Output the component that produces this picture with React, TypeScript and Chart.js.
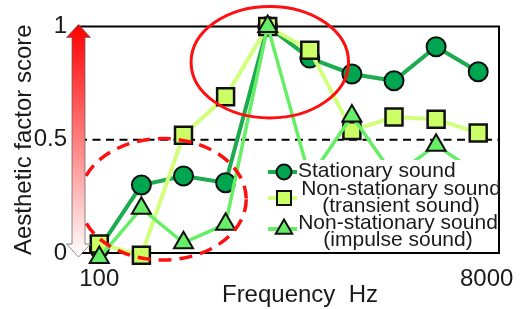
import React, { useEffect, useRef } from 'react';
import { Chart, registerables } from 'chart.js';

Chart.register(...registerables);

// ---- data ----
const bandIndex = [0, 1, 2, 3, 4, 5, 6, 7, 8, 9];
const stationary = [0.02, 0.3, 0.34, 0.31, 1.0, 0.86, 0.79, 0.76, 0.91, 0.8];
const transient = [0.04, -0.01, 0.52, 0.69, 1.0, 0.895, 0.54, 0.6, 0.59, 0.53];
const impulse = [-0.02, 0.197, 0.045, 0.127, 1.0, 0.33, 0.605, 0.34, 0.476, 0.35];
const xTickValues = [0, 9.2];
const xTickLabels = ['100', '8000'];
const yTickValues = [0, 0.5, 1];
const yTickLabels = ['0', '0.5', '1'];
const seriesNames = ['Stationary sound', 'Non-stationary sound (transient sound)', 'Non-stationary sound (impulse sound)'];
const legendLines = [['Stationary sound'], ['Non-stationary sound', '(transient sound)'], ['Non-stationary sound', '(impulse sound)']];
const xTitle = 'Frequency  Hz';
const yTitle = 'Aesthetic factor score';
const referenceLevel = 0.5;

// highlight ellipses (data units)
const highlightSolid = { cx: 4.05, cy: 0.842, rx: 1.87, ry: 0.246 };
const highlightDashed = { cx: 1.51, cy: 0.237, rx: 1.98, ry: 0.268 };

// ---- styles ----
const FONT = '"Liberation Sans", Arial, Helvetica, sans-serif';
const INK = '#1a1a1a';
const C = {
  statLine: '#1dab50',
  statFill: '#00a54f',
  tranLine: '#d2ff7c',
  tranFill: '#ccff66',
  impLine: '#66ee66',
  impFill: '#66ee66',
};

function drawMarker(ctx: CanvasRenderingContext2D, kind: string, x: number, y: number, r: number, fill: string) {
  ctx.beginPath();
  if (kind === 'circle') {
    ctx.arc(x, y, r, 0, Math.PI * 2);
  } else if (kind === 'rect') {
    ctx.rect(x - r, y - r, 2 * r, 2 * r);
  } else {
    ctx.moveTo(x, y - r);
    ctx.lineTo(x + r * 0.866, y + r * 0.5);
    ctx.lineTo(x - r * 0.866, y + r * 0.5);
    ctx.closePath();
  }
  ctx.fillStyle = fill;
  ctx.fill();
  ctx.lineWidth = 2;
  ctx.strokeStyle = '#111';
  ctx.stroke();
}

export default function App() {
  const ref = useRef<HTMLCanvasElement>(null);

  useEffect(() => {
    const canvas = ref.current;
    if (!canvas) return;

    const decor = {
      id: 'decor',
      beforeDatasetsDraw(chart: any) {
        const { ctx, chartArea: a, scales } = chart;
        ctx.save();
        const y5 = scales.y.getPixelForValue(referenceLevel);
        ctx.strokeStyle = '#000';
        ctx.lineWidth = 2;
        ctx.setLineDash([8, 5.5]);
        ctx.beginPath();
        ctx.moveTo(a.left, y5);
        ctx.lineTo(a.right, y5);
        ctx.stroke();
        ctx.setLineDash([]);
        ctx.beginPath();
        ctx.moveTo(a.left, a.top);
        ctx.lineTo(a.right, a.top);
        ctx.lineTo(a.right, a.bottom);
        ctx.lineTo(a.left, a.bottom);
        ctx.stroke();
        ctx.restore();
      },
      afterDatasetsDraw(chart: any) {
        const { ctx, chartArea: a, scales } = chart;
        const sx = scales.x;
        const sy = scales.y;
        ctx.save();

        // legend box
        const bx = 265;
        const by = 160;
        ctx.fillStyle = '#fff';
        ctx.fillRect(bx, by, a.right - bx, a.bottom - by);
        ctx.strokeStyle = '#000';
        ctx.lineWidth = 2;
        ctx.beginPath();
        ctx.moveTo(a.right, by - 2);
        ctx.lineTo(a.right, a.bottom);
        ctx.lineTo(bx - 2, a.bottom);
        ctx.stroke();

        // legend entries
        const entries = [
          { kind: 'circle', line: C.statLine, fill: C.statFill, r: 7.5, my: 172, textY: [171], cx: null as number | null },
          { kind: 'rect', line: C.tranLine, fill: C.tranFill, r: 7, my: 198, textY: [189, 206], cx: 401 },
          { kind: 'tri', line: C.impLine, fill: C.impFill, r: 9.5, my: 229, textY: [223, 240], cx: 398 },
        ];
        entries.forEach((e, i) => {
          ctx.strokeStyle = e.line;
          ctx.lineWidth = 4;
          ctx.beginPath();
          ctx.moveTo(268, e.my);
          ctx.lineTo(297, e.my);
          ctx.stroke();
          drawMarker(ctx, e.kind, 284, e.my, e.r, e.fill);
          ctx.fillStyle = INK;
          ctx.font = `21px ${FONT}`;
          ctx.textBaseline = 'middle';
          legendLines[i].forEach((t, j) => {
            if (e.cx == null) {
              ctx.textAlign = 'left';
              ctx.fillText(t, 298, e.textY[j]);
            } else {
              ctx.textAlign = 'center';
              ctx.fillText(t, e.cx, e.textY[j]);
            }
          });
        });

        // highlight ellipses
        const unitX = sx.getPixelForValue(1) - sx.getPixelForValue(0);
        const unitY = sy.getPixelForValue(0) - sy.getPixelForValue(1);
        ctx.strokeStyle = '#ff1010';
        ctx.lineWidth = 3;
        ctx.beginPath();
        ctx.ellipse(sx.getPixelForValue(highlightSolid.cx), sy.getPixelForValue(highlightSolid.cy),
          highlightSolid.rx * unitX, highlightSolid.ry * unitY, 0, 0, Math.PI * 2);
        ctx.stroke();
        ctx.lineWidth = 3.5;
        ctx.setLineDash([13, 8]);
        ctx.beginPath();
        ctx.ellipse(sx.getPixelForValue(highlightDashed.cx), sy.getPixelForValue(highlightDashed.cy),
          highlightDashed.rx * unitX, highlightDashed.ry * unitY, 0, 0, Math.PI * 2);
        ctx.stroke();
        ctx.setLineDash([]);

        // gradient double arrow on the y axis
        const cx = a.left - 0.5;
        const top = a.top - 2;
        const bot = a.bottom + 4;
        const hl = 13;
        const hw = 12;
        const sw = 6.5;
        const g = ctx.createLinearGradient(0, top, 0, bot);
        g.addColorStop(0, '#ff0000');
        g.addColorStop(1, '#ffffff');
        ctx.beginPath();
        ctx.moveTo(cx, top);
        ctx.lineTo(cx + hw, top + hl);
        ctx.lineTo(cx + sw, top + hl);
        ctx.lineTo(cx + sw, bot - hl);
        ctx.lineTo(cx + hw, bot - hl);
        ctx.lineTo(cx, bot);
        ctx.lineTo(cx - hw, bot - hl);
        ctx.lineTo(cx - sw, bot - hl);
        ctx.lineTo(cx - sw, top + hl);
        ctx.lineTo(cx - hw, top + hl);
        ctx.closePath();
        ctx.fillStyle = g;
        ctx.fill();
        ctx.strokeStyle = 'rgba(90,90,90,0.7)';
        ctx.lineWidth = 1;
        ctx.stroke();

        // x axis title
        ctx.fillStyle = INK;
        ctx.font = `24px ${FONT}`;
        ctx.textAlign = 'center';
        ctx.textBaseline = 'middle';
        ctx.fillText(xTitle, 300, 295);
        ctx.restore();
      },
    };

    const mk = (vals: number[]) => bandIndex.map((x, i) => ({ x, y: vals[i] }));

    const chart = new Chart(canvas, {
      type: 'line',
      data: {
        datasets: [
          {
            label: seriesNames[0],
            data: mk(stationary),
            borderColor: C.statLine,
            borderWidth: 4,
            pointStyle: 'circle',
            pointRadius: 9.5,
            pointBackgroundColor: C.statFill,
            pointBorderColor: '#111',
            pointBorderWidth: 2,
            order: 3,
            clip: false,
          },
          {
            label: seriesNames[1],
            data: mk(transient),
            borderColor: C.tranLine,
            borderWidth: 4,
            pointStyle: 'rect',
            pointRadius: 12,
            pointBackgroundColor: C.tranFill,
            pointBorderColor: '#111',
            pointBorderWidth: 2.5,
            order: 2,
            clip: false,
          },
          {
            label: seriesNames[2],
            data: mk(impulse),
            borderColor: C.impLine,
            borderWidth: 3.5,
            pointStyle: 'triangle',
            pointRadius: 11,
            pointBackgroundColor: C.impFill,
            pointBorderColor: '#111',
            pointBorderWidth: 2,
            order: 1,
            clip: false,
          },
        ],
      },
      options: {
        responsive: false,
        animation: false,
        devicePixelRatio: 1,
        layout: { padding: { top: 26, right: 23, left: 0, bottom: 0 } },
        plugins: {
          legend: { display: false },
          tooltip: { enabled: false },
        },
        scales: {
          x: {
            type: 'linear',
            min: -0.482,
            max: 9.494,
            grid: { display: false, drawTicks: false },
            border: { display: false },
            afterBuildTicks: (s: any) => {
              s.ticks = xTickValues.map((v) => ({ value: v }));
            },
            afterFit: (s: any) => {
              s.height = 56;
            },
            ticks: {
              autoSkip: false,
              maxRotation: 0,
              padding: 12,
              color: INK,
              font: { family: FONT, size: 24 },
              callback: (_v: any, i: number) => xTickLabels[i],
            },
          },
          y: {
            type: 'linear',
            min: 0,
            max: 1,
            grid: { display: false, drawTicks: false },
            border: { display: false },
            afterBuildTicks: (s: any) => {
              s.ticks = yTickValues.map((v) => ({ value: v }));
            },
            afterFit: (s: any) => {
              s.width = 79;
            },
            ticks: {
              padding: 12,
              color: INK,
              font: { family: FONT, size: 24 },
              callback: (_v: any, i: number) => yTickLabels[i],
            },
            title: {
              display: true,
              text: yTitle,
              color: INK,
              font: { family: FONT, size: 24 },
              padding: { top: 10, bottom: 0 },
            },
          },
        },
      },
      plugins: [decor],
    } as any);

    return () => chart.destroy();
  }, []);

  return (
    <div style={{ position: 'fixed', left: 0, top: 0, width: 526, height: 309, background: '#fff' }}>
      <canvas ref={ref} width={526} height={309} style={{ display: 'block' }} />
    </div>
  );
}
